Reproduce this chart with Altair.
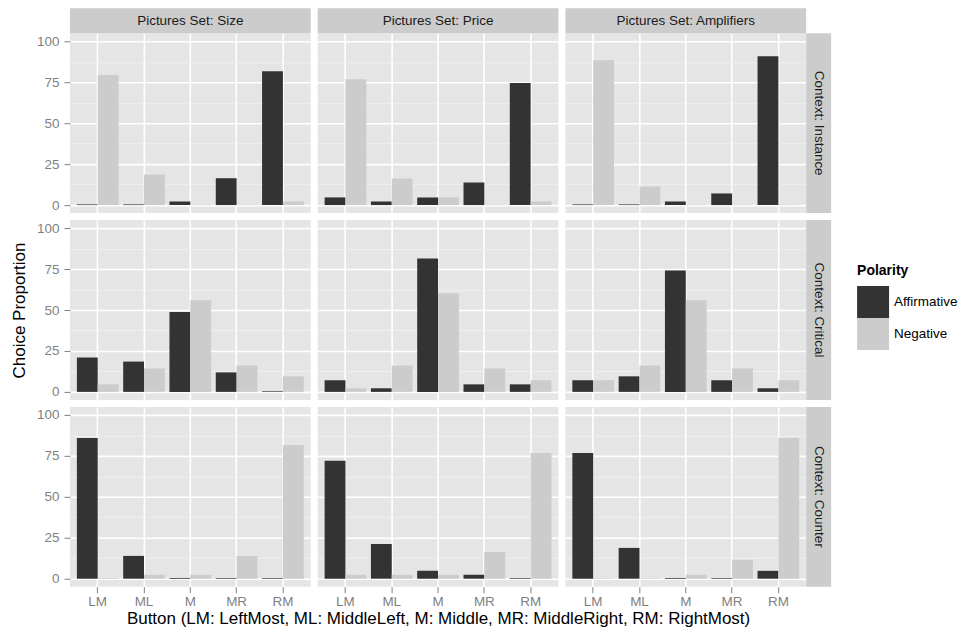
import altair as alt
import pandas as pd

# ---- data ----
sets = ["Size", "Price", "Amplifiers"]
contexts = ["Instance", "Critical", "Counter"]
buttons = ["LM", "ML", "M", "MR", "RM"]
polarities = ["Affirmative", "Negative"]

# Pictures Set: Size
size_instance_aff = [0.4, 0.4, 2.2, 16.4, 81.8]
size_instance_neg = [79.4, 18.6, 0.3, 0.3, 2.2]
size_critical_aff = [21.0, 18.5, 48.8, 11.9, 0.4]
size_critical_neg = [4.6, 14.3, 56.0, 16.1, 9.5]
size_counter_aff = [85.9, 13.9, 0.4, 0.4, 0.4]
size_counter_neg = [0.4, 2.4, 2.4, 13.9, 81.7]

# Pictures Set: Price
price_instance_aff = [4.7, 2.2, 4.7, 13.8, 74.5]
price_instance_neg = [76.9, 16.2, 4.7, 0.3, 2.2]
price_critical_aff = [7.1, 2.2, 81.5, 4.6, 4.6]
price_critical_neg = [2.2, 16.1, 60.3, 14.3, 7.1]
price_counter_aff = [72.0, 21.2, 4.8, 2.4, 0.4]
price_counter_neg = [2.4, 2.4, 2.4, 16.3, 76.8]

# Pictures Set: Amplifiers
amp_instance_aff = [0.4, 0.4, 2.2, 7.1, 90.9]
amp_instance_neg = [88.5, 11.3, 0.3, 0.3, 0.3]
amp_critical_aff = [7.1, 9.5, 74.2, 7.1, 2.2]
amp_critical_neg = [7.1, 16.1, 56.0, 14.3, 7.1]
amp_counter_aff = [76.8, 18.8, 0.4, 0.4, 4.8]
amp_counter_neg = [0.3, 0.3, 2.4, 11.5, 85.9]

y_ticks = [0, 12.5, 25, 37.5, 50, 62.5, 75, 87.5, 100]
x_title = "Button (LM: LeftMost, ML: MiddleLeft, M: Middle, MR: MiddleRight, RM: RightMost)"
y_title = "Choice Proportion"

table = {
    ("Size", "Instance"): (size_instance_aff, size_instance_neg),
    ("Size", "Critical"): (size_critical_aff, size_critical_neg),
    ("Size", "Counter"): (size_counter_aff, size_counter_neg),
    ("Price", "Instance"): (price_instance_aff, price_instance_neg),
    ("Price", "Critical"): (price_critical_aff, price_critical_neg),
    ("Price", "Counter"): (price_counter_aff, price_counter_neg),
    ("Amplifiers", "Instance"): (amp_instance_aff, amp_instance_neg),
    ("Amplifiers", "Critical"): (amp_critical_aff, amp_critical_neg),
    ("Amplifiers", "Counter"): (amp_counter_aff, amp_counter_neg),
}

records = []
for (s, c), (aff, neg) in table.items():
    for i, b in enumerate(buttons):
        records.append({"Set": s, "Context": c, "Button": b, "Polarity": "Affirmative", "Value": aff[i]})
        records.append({"Set": s, "Context": c, "Button": b, "Polarity": "Negative", "Value": neg[i]})
df = pd.DataFrame(records)

W, H = 241, 180
STRIP = 25
FONT = "Liberation Sans"
GREY = "#7F7F7F"
TICK_FS = 13.5
TITLE_FS = 17

major_test = "datum.value % 25 === 0"


def panel(ri, ci):
    c = contexts[ri]
    s = sets[ci]
    sub = df[(df["Set"] == s) & (df["Context"] == c)]
    last_row = ri == 2
    first_col = ci == 0

    xaxis_kw = dict(
        bandPosition=0.5, grid=True, domain=False, labels=last_row, ticks=last_row,
        gridColor="#FFFFFF", gridWidth=1.6, labelAngle=0, labelFontSize=TICK_FS,
        labelColor=GREY, tickColor=GREY, tickSize=6, labelPadding=2,
        titleFontSize=TITLE_FS, titleFontWeight="normal", titleColor="#000000", titlePadding=2,
    )
    yaxis_kw = dict(
        values=y_ticks, grid=True, domain=False, labels=first_col, ticks=first_col,
        gridColor={"condition": {"test": major_test, "value": "#FFFFFF"}, "value": "#F2F2F2"},
        gridWidth={"condition": {"test": major_test, "value": 1.6}, "value": 0.8},
        tickOpacity={"condition": {"test": major_test, "value": 1}, "value": 0},
        labelExpr="datum.value % 25 === 0 ? datum.label : ''",
        labelFontSize=TICK_FS, labelColor=GREY, tickColor=GREY, tickSize=6, labelPadding=5,
        titleFontSize=TITLE_FS, titleFontWeight="normal", titleColor="#000000", titlePadding=8,
    )

    xt = x_title if (last_row and ci == 1) else None
    yt = y_title if (first_col and ri == 1) else None

    bars = alt.Chart(sub).mark_bar().encode(
        x=alt.X("Button:N", sort=buttons, title=xt,
                scale=alt.Scale(domain=buttons, paddingInner=0.1, paddingOuter=0.15),
                axis=alt.Axis(**xaxis_kw)),
        xOffset=alt.XOffset("Polarity:N", sort=polarities,
                            scale=alt.Scale(domain=polarities, paddingInner=0, paddingOuter=0)),
        y=alt.Y("Value:Q", title=yt,
                scale=alt.Scale(domain=[-4.9, 104.9], nice=False, zero=False),
                axis=alt.Axis(**yaxis_kw)),
        color=alt.Color("Polarity:N", sort=polarities,
                        scale=alt.Scale(domain=polarities, range=["#333333", "#CCCCCC"]),
                        legend=alt.Legend(title="Polarity", symbolType="square", orient="none",
                                          legendX=788, legendY=231)),
    ).properties(width=W, height=H)

    layers = [bars]
    if ri == 0:
        lab = pd.DataFrame({"label": ["Pictures Set: " + s]})
        bg = alt.Chart(lab).mark_rect(color="#CCCCCC").encode(
            x=alt.value(0), x2=alt.value(W), y=alt.value(-STRIP), y2=alt.value(0))
        tx = alt.Chart(lab).mark_text(font=FONT, fontSize=TICK_FS, color="#1A1A1A",
                                      align="center", baseline="middle").encode(
            x=alt.value(W / 2), y=alt.value(-STRIP / 2), text="label:N")
        layers += [bg, tx]
    if ci == 2:
        lab = pd.DataFrame({"label": ["Context: " + c]})
        bg = alt.Chart(lab).mark_rect(color="#CCCCCC").encode(
            x=alt.value(W), x2=alt.value(W + STRIP), y=alt.value(0), y2=alt.value(H))
        tx = alt.Chart(lab).mark_text(font=FONT, fontSize=TICK_FS, color="#1A1A1A", angle=90,
                                      align="center", baseline="middle").encode(
            x=alt.value(W + STRIP / 2), y=alt.value(H / 2), text="label:N")
        layers += [bg, tx]
    return alt.layer(*layers)


panels = [panel(ri, ci) for ri in range(3) for ci in range(3)]

chart = alt.concat(*panels, columns=3, spacing=7, bounds="flush").resolve_scale(
    color="shared"
).properties(
    padding={"left": 2, "top": 0, "right": 0, "bottom": 0},
    background="#FFFFFF",
).configure_view(
    fill="#E5E5E5", strokeWidth=0
).configure_axis(
    labelFont=FONT, titleFont=FONT
).configure_legend(
    titleFont=FONT, labelFont=FONT, titleFontSize=14, titleFontWeight="bold",
    labelFontSize=13.5, labelColor="#000000", titleColor="#000000",
    symbolSize=1024, symbolStrokeWidth=0, rowPadding=0, labelOffset=5,
    titlePadding=8, symbolOpacity=1,
)

chart.save("out.html", embed_options={"renderer": "svg", "actions": False})
